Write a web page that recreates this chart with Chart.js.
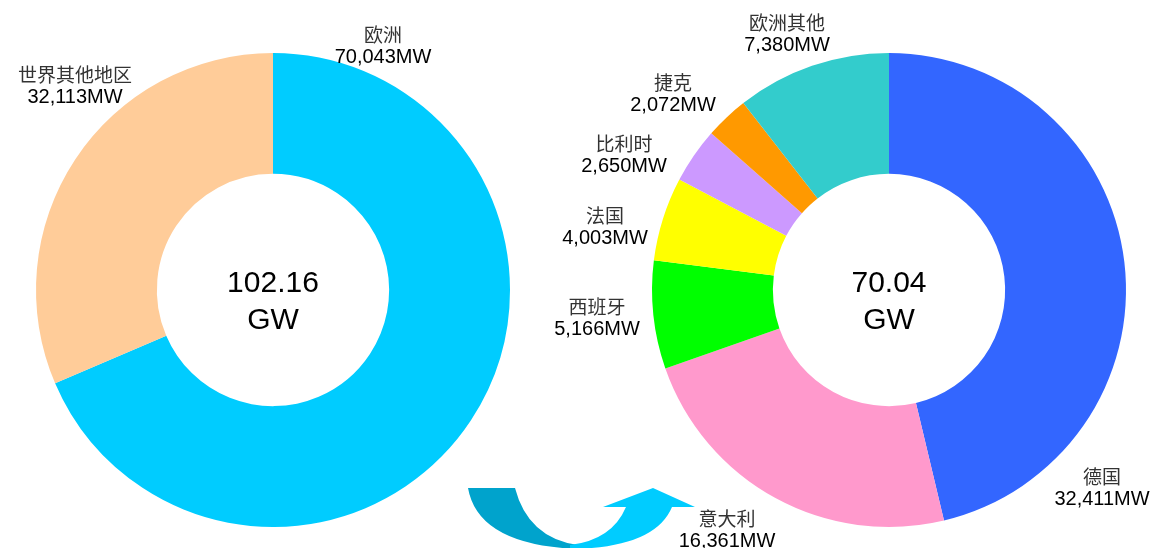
<!DOCTYPE html>
<html>
<head>
<meta charset="utf-8">
<script src="https://cdn.jsdelivr.net/npm/chart.js@4.4.0/dist/chart.umd.min.js"></script>
<style>
  html, body { margin: 0; padding: 0; background: #fff; }
  #wrap { position: relative; width: 1150px; height: 548px; overflow: hidden; }
  canvas { position: absolute; left: 0; top: 0; }
</style>
</head>
<body>
<div id="wrap">
  <canvas id="world" width="1150" height="548"></canvas>
  <canvas id="europe" width="1150" height="548"></canvas>
</div>
<script>
// 全球装机
const worldLabels = ["欧洲", "世界其他地区"];
const worldValues = [70043, 32113];
const worldColors = ["#00CCFF", "#FFCC99"];

// 欧洲装机
const euLabels = ["德国", "意大利", "西班牙", "法国", "比利时", "捷克", "欧洲其他"];
const euValues = [32411, 16361, 5166, 4003, 2650, 2072, 7380];
const euColors = ["#3366FF", "#FF99CC", "#00FF00", "#FFFF00", "#CC99FF", "#FF9900", "#33CCCC"];

// label offsets from the doughnut centre (layout only)
const worldLabelPos = [[110, -244], [-198, -204]];
const euLabelPos = [[213, 198], [-162, 240], [-292, 28], [-284, -63], [-265, -135], [-216, -196], [-102, -256]];

const fmt = v => v.toLocaleString("en-US") + "MW";

const labelPlugin = {
  id: "labels",
  afterDraw(chart, args, opts) {
    const ctx = chart.ctx;
    const arc = chart.getDatasetMeta(0).data[0];
    const cx = arc.x, cy = arc.y;
    const ds = chart.data.datasets[0];
    ctx.save();
    ctx.textAlign = "center";
    ctx.textBaseline = "middle";
    chart.data.labels.forEach((name, i) => {
      const p = opts.pos[i];
      ctx.fillStyle = "#333";
      ctx.font = "19px 'Noto Sans CJK SC'";
      ctx.fillText(name, cx + p[0], cy + p[1] - 11);
      ctx.fillStyle = "#000";
      ctx.font = "20px 'Liberation Sans', Arial";
      ctx.fillText(fmt(ds.data[i]), cx + p[0], cy + p[1] + 11);
    });
    // centre total
    const total = ds.data.reduce((a, b) => a + b, 0);
    ctx.font = "30px 'Liberation Sans', Arial";
    ctx.fillText((total / 1000).toFixed(2), cx, cy - 6);
    ctx.fillText("GW", cx, cy + 31);
    ctx.restore();
  }
};

const arrowPlugin = {
  id: "arrow",
  afterDraw(chart) {
    const ctx = chart.ctx;
    ctx.save();
    ctx.fillStyle = "#00A3CC";
    ctx.beginPath();
    ctx.moveTo(468, 488);
    ctx.lineTo(515, 488);
    ctx.quadraticCurveTo(528, 538, 578, 545);
    ctx.lineTo(578, 549);
    ctx.quadraticCurveTo(478, 545, 468, 488);
    ctx.closePath();
    ctx.fill();
    ctx.fillStyle = "#00CCFF";
    ctx.beginPath();
    ctx.moveTo(570, 549);
    ctx.quadraticCurveTo(655, 548, 672, 507);
    ctx.lineTo(695, 507);
    ctx.lineTo(653, 488);
    ctx.lineTo(603, 507);
    ctx.lineTo(626, 507);
    ctx.quadraticCurveTo(612, 540, 570, 545);
    ctx.closePath();
    ctx.fill();
    ctx.restore();
  }
};

const baseOptions = (padding, pos) => ({
  responsive: false,
  animation: false,
  cutout: "49%",
  layout: { padding: padding },
  plugins: {
    legend: { display: false },
    tooltip: { enabled: false },
    labels: { pos: pos }
  }
});

new Chart("world", {
  type: "doughnut",
  data: {
    labels: worldLabels,
    datasets: [{ data: worldValues, backgroundColor: worldColors, borderWidth: 0 }]
  },
  options: baseOptions({ left: 36, right: 640, top: 53, bottom: 21 }, worldLabelPos),
  plugins: [labelPlugin]
});

new Chart("europe", {
  type: "doughnut",
  data: {
    labels: euLabels,
    datasets: [{ data: euValues, backgroundColor: euColors, borderWidth: 0 }]
  },
  options: baseOptions({ left: 652, right: 24, top: 53, bottom: 21 }, euLabelPos),
  plugins: [labelPlugin, arrowPlugin]
});
</script>
</body>
</html>
